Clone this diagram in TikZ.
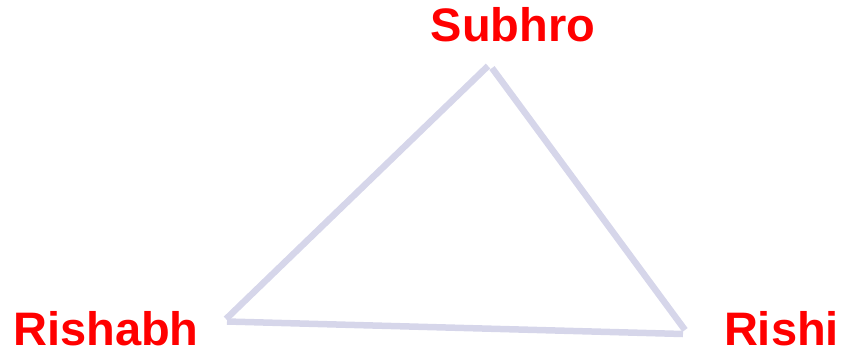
\documentclass[tikz,border=0pt]{standalone}
\usepackage{fontspec}
\setmainfont{Liberation Sans}
\usetikzlibrary{positioning}
\definecolor{edgelav}{RGB}{214, 214, 234}
\definecolor{namered}{RGB}{255, 0, 0}

\begin{document}
\begin{tikzpicture}[
        x=1pt, y=1pt,
        person/.style={anchor=base, text=namered, font=\fontsize{47}{47}\selectfont\bfseries, inner sep=0pt},
        edge/.style={draw=edgelav, line width=6.5pt, line cap=butt}
    ]
        \useasboundingbox (0,0) rectangle (842,349);
        \node[person] (subhro) at (513,307.5) {Subhro};
        \node[person] (rishabh) at (106,4) {Rishabh};
        \node[person] (rishi) at (781.5,4) {Rishi};
        \coordinate (topL) at (488,283);
        \coordinate (topR) at (492,281);
        \coordinate (leftA) at (226,30);
        \coordinate (leftB) at (227,27.5);
        \coordinate (rightA) at (683,15);
        \coordinate (rightB) at (685,19);
        \draw[edge] (topL) -- (leftA);
        \draw[edge] (topR) -- (rightB);
        \draw[edge] (leftB) -- (rightA);
    \end{tikzpicture}
\end{document}
